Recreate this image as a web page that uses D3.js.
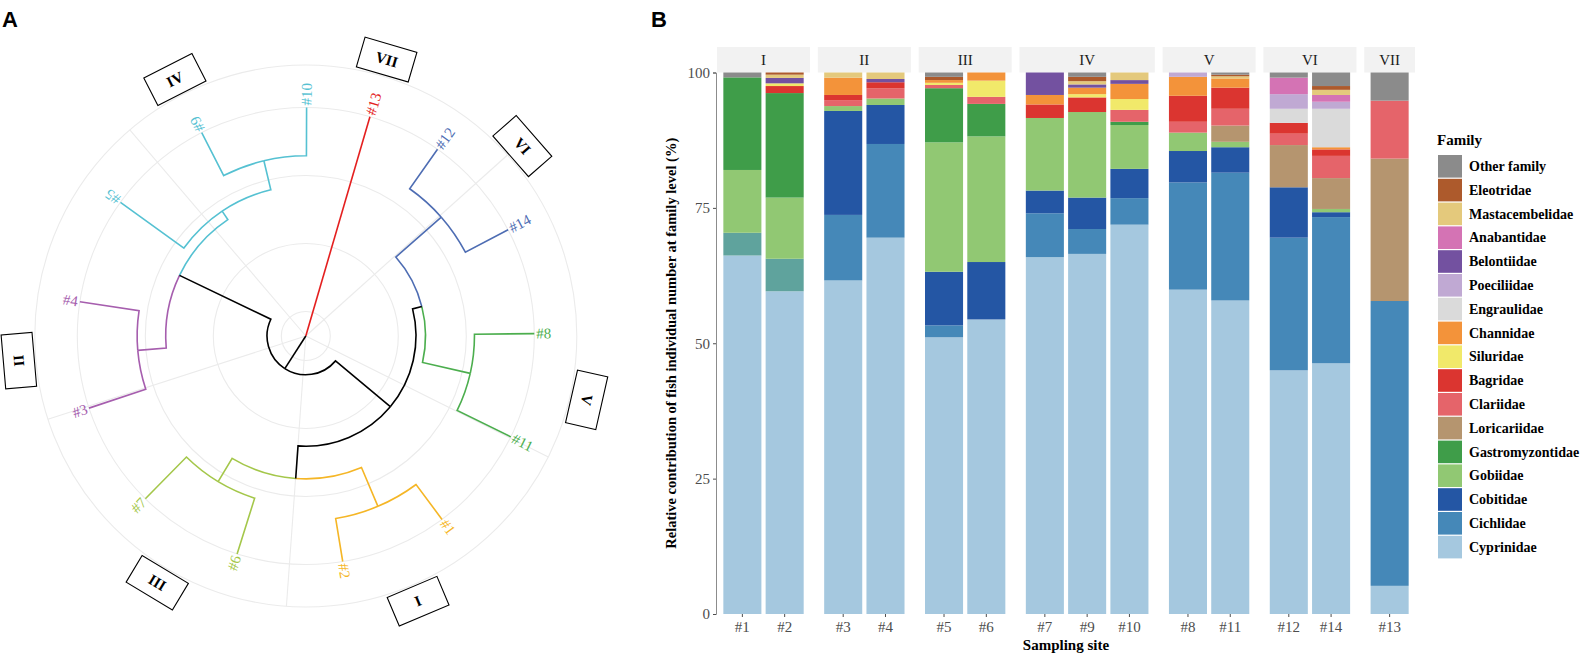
<!DOCTYPE html>
<html lang="en">
<head>
<meta charset="UTF-8">
<title>Fish family composition by sampling site</title>
<script src="https://d3js.org/d3.v7.min.js"></script>
<style>
  body { margin: 0; background: #fff; }
  svg { display: block; }
</style>
</head>
<body>
<div id="chart"></div>
<script>
// ---------- panel A: circular dendrogram ----------
const tipNames    = ["#13", "#12", "#14", "#8", "#11", "#1", "#2", "#6", "#7", "#3", "#4", "#5", "#9", "#10"];
const tipAngles   = [16.3, 35.2, 62.3, 89.4, 116.2, 143.4, 170.7, 197.5, 224.6, 251.6, 278.6, 305.8, 332.9, 360.2];
const tipClusters = ["VII", "VI", "VI", "V", "V", "I", "I", "III", "III", "II", "II", "IV", "IV", "IV"];

// merges, children listed before parents
const nodeNames   = ["n1", "n2", "n3", "n4", "n5", "n6", "n7", "n8", "n9", "n10", "n11", "n12", "root"];
const nodeLeft    = ["#1", "#9", "#12", "#6", "#8", "#3", "#5", "n4", "n6", "n3", "n10", "n11", "#13"];
const nodeRight   = ["#2", "#10", "#14", "#7", "#11", "#4", "n2", "n1", "n7", "n5", "n8", "n9", "n12"];
const nodeHeights = [0.064, 0.071, 0.071, 0.086, 0.088, 0.088, 0.115, 0.126, 0.130, 0.160, 0.174, 0.279, 0.336];

const gridBreaks  = [0, 0.1, 0.2, 0.3];
const outerLimit  = -0.0625;
const spokeAngles = [48.1, 116.5, 184.1, 252.1, 319.5];

const clusterNames  = ["I", "II", "III", "IV", "V", "VI", "VII"];
const clusterColors = ["#f5b626", "#a65eae", "#a4c74a", "#55c1d2", "#4cae4e", "#4e6db3", "#e41f1f"];

// ---------- panel B: stacked bars ----------
const sites      = ["#1", "#2", "#3", "#4", "#5", "#6", "#7", "#9", "#10", "#8", "#11", "#12", "#14", "#13"];
const siteGroups = ["I", "I", "II", "II", "III", "III", "IV", "IV", "IV", "V", "V", "VI", "VI", "VII"];

// legend order (top of stack first)
const families = ["Other family", "Eleotridae", "Mastacembelidae", "Anabantidae", "Belontiidae", "Poeciliidae",
  "Engraulidae", "Channidae", "Siluridae", "Bagridae", "Clariidae", "Loricariidae", "Gastromyzontidae",
  "Gobiidae", "Cobitidae", "Cichlidae", "Cyprinidae"];
const familyColors = ["#8b8b8b", "#ad5a2c", "#e4c97c", "#d473b4", "#7351a0", "#c0a9d3",
  "#dadada", "#f3933a", "#f1e96a", "#db3530", "#e5646a", "#b5956f", "#3f9d49",
  "#91c873", "#2456a4", "#4588b8", "#a5c8df"];
const unlistedColor = "#5fa39d";   // segment in #1 and #2 that has no legend key

// % per site, same order as `sites`
const otherFamily      = [0.9, 0, 0, 0, 0.8, 0, 0, 0.8, 0, 0, 0.4, 0.95, 2.5, 5.2];
const eleotridae       = [0, 0.4, 0, 0, 0.6, 0, 0, 0.8, 0, 0, 0.3, 0, 0.7, 0];
const mastacembelidae  = [0, 0.6, 0.95, 1.2, 0, 0, 0, 0.6, 1.4, 0, 0.4, 0, 0.95, 0];
const anabantidae      = [0, 0, 0, 0, 0, 0, 0, 0, 0, 0, 0, 3.05, 1.25, 0];
const belontiidae      = [0, 1.0, 0, 0.6, 0, 0, 4.15, 0.6, 0.7, 0, 0, 0, 0, 0];
const poeciliidae      = [0, 0, 0, 0, 0, 0, 0, 0, 0, 0.8, 0, 2.7, 1.3, 0];
const engraulidae      = [0, 0, 0, 0, 0, 0, 0, 0, 0, 0, 0, 2.6, 7.1, 0];
const channidae        = [0, 0, 3.2, 0, 0.5, 1.5, 1.75, 1.2, 2.8, 3.5, 1.7, 0, 0.4, 0];
const siluridae        = [0, 0.5, 0, 0, 0.4, 3.0, 0, 0.6, 2.0, 0, 0, 0, 0, 0];
const bagridae         = [0, 1.3, 0.95, 1.1, 0, 0, 2.5, 2.7, 0, 4.8, 3.9, 2.0, 1.2, 0];
const clariidae        = [0, 0, 1.1, 1.9, 0.6, 1.3, 0, 0, 2.2, 2.0, 3.1, 2.1, 4.1, 10.7];
const loricariidae     = [0, 0, 0, 0, 0, 0, 0, 0, 0, 0, 3.0, 7.8, 5.7, 26.3];
const gastromyzontidae = [17.1, 19.3, 0, 0, 10.0, 6.0, 0, 0, 0.6, 0, 0, 0, 0, 0];
const gobiidae         = [11.6, 11.3, 0.9, 1.2, 23.9, 23.2, 13.4, 15.8, 8.1, 3.4, 1.0, 0, 0.6, 0];
const cobitidae        = [0, 0, 19.2, 7.2, 9.9, 10.6, 4.2, 5.8, 5.4, 5.8, 4.7, 9.3, 0.9, 0];
const cichlidae        = [0, 0, 12.1, 17.3, 2.2, 0, 8.1, 4.6, 4.9, 19.8, 23.6, 24.5, 27.0, 52.6];
const unlisted         = [4.2, 6.0, 0, 0, 0, 0, 0, 0, 0, 0, 0, 0, 0, 0];
const cyprinidae       = [66.2, 59.6, 61.6, 69.5, 51.1, 54.4, 65.9, 66.5, 71.9, 59.9, 57.9, 45.0, 46.3, 5.2];

const yTicks = [0, 25, 50, 75, 100];

const serif = '"Liberation Serif", "Times New Roman", serif';
const sans = '"Liberation Sans", Arial, sans-serif';

const svg = d3.select("#chart").append("svg")
    .attr("width", 1595)
    .attr("height", 653);

svg.append("text").attr("x", 2).attr("y", 27)
    .style("font-family", sans).style("font-weight", "bold").style("font-size", "22px")
    .text("A");
svg.append("text").attr("x", 651).attr("y", 27)
    .style("font-family", sans).style("font-weight", "bold").style("font-size", "22px")
    .text("B");

// ===== dendrogram =====
const cx = 305.8, cy = 336;
const r = d3.scaleLinear().domain([nodeHeights[nodeHeights.length - 1], 0]).range([0, 228.5]);
const rad = a => a * Math.PI / 180;
const pt = (rr, a) => [rr * Math.sin(rad(a)), -rr * Math.cos(rad(a))];

const tree = svg.append("g").attr("transform", `translate(${cx},${cy})`);

gridBreaks.concat([outerLimit]).forEach(b => {
    tree.append("circle")
        .attr("r", r(b))
        .attr("fill", "none")
        .attr("stroke", "#ebebeb")
        .attr("stroke-width", 1.1);
});
spokeAngles.forEach(a => {
    const [x, y] = pt(r(outerLimit), a);
    tree.append("line")
        .attr("x1", 0).attr("y1", 0).attr("x2", x).attr("y2", y)
        .attr("stroke", "#ebebeb")
        .attr("stroke-width", 1.1);
});

const clusterColor = d3.scaleOrdinal().domain(clusterNames).range(clusterColors);
const info = {};
tipNames.forEach((n, i) => info[n] = { a: tipAngles[i], h: 0, cl: new Set([tipClusters[i]]) });
nodeNames.forEach((n, i) => {
    const L = info[nodeLeft[i]], R = info[nodeRight[i]];
    info[n] = { a: (L.a + R.a) / 2, h: nodeHeights[i], cl: new Set([...L.cl, ...R.cl]) };
});

function edgePath(p, c) {
    const rp = r(p.h), rc = r(c.h);
    const [x0, y0] = pt(rp, p.a), [x1, y1] = pt(rp, c.a), [x2, y2] = pt(rc, c.a);
    let d = `M${x0},${y0}`;
    if (rp > 0.5) d += `A${rp},${rp} 0 0 ${c.a > p.a ? 1 : 0} ${x1},${y1}`;
    return d + `L${x2},${y2}`;
}

const edges = [];
nodeNames.forEach((n, i) => {
    [nodeLeft[i], nodeRight[i]].forEach(ch => {
        const c = info[ch];
        const col = c.cl.size === 1 ? clusterColor([...c.cl][0]) : "#000";
        edges.push({ d: edgePath(info[n], c), col });
    });
});
edges.sort((a, b) => (a.col === "#000") - (b.col === "#000"));
tree.selectAll("path.edge")
    .data(edges)
    .enter().append("path")
    .attr("class", "edge")
    .attr("d", d => d.d)
    .attr("fill", "none")
    .attr("stroke", d => d.col)
    .attr("stroke-width", 1.6);

tipNames.forEach((n, i) => {
    const a = tipAngles[i];
    const flip = a > 180 && a < 290;
    const [x, y] = pt(r(0) + 2, a);
    tree.append("text")
        .attr("transform", `translate(${x},${y}) rotate(${flip ? a + 90 : a - 90})`)
        .attr("text-anchor", flip ? "end" : "start")
        .attr("dominant-baseline", "central")
        .style("font-family", serif)
        .style("font-size", "15px")
        .attr("fill", clusterColor(tipClusters[i]))
        .text(n);
});

clusterNames.forEach(c => {
    const a = d3.mean(tipAngles.filter((v, i) => tipClusters[i] === c));
    const [x, y] = pt(288, a);
    const g = tree.append("g").attr("transform", `translate(${x},${y}) rotate(${a})`);
    g.append("rect")
        .attr("x", -27).attr("y", -15.5).attr("width", 54).attr("height", 31)
        .attr("fill", "#fff").attr("stroke", "#000").attr("stroke-width", 1.1);
    g.append("text")
        .attr("text-anchor", "middle")
        .attr("dominant-baseline", "central")
        .style("font-family", serif)
        .style("font-weight", "bold")
        .style("font-size", "15px")
        .text(c);
});

// ===== stacked bars =====
const famValues = {
    "Other family": otherFamily, "Eleotridae": eleotridae, "Mastacembelidae": mastacembelidae,
    "Anabantidae": anabantidae, "Belontiidae": belontiidae, "Poeciliidae": poeciliidae,
    "Engraulidae": engraulidae, "Channidae": channidae, "Siluridae": siluridae, "Bagridae": bagridae,
    "Clariidae": clariidae, "Loricariidae": loricariidae, "Gastromyzontidae": gastromyzontidae,
    "Gobiidae": gobiidae, "Cobitidae": cobitidae, "Cichlidae": cichlidae, "Unlisted": unlisted,
    "Cyprinidae": cyprinidae
};
const stackKeys = families.slice().reverse();
stackKeys.splice(1, 0, "Unlisted");   // sits right above Cyprinidae
const fill = d3.scaleOrdinal()
    .domain(families.concat(["Unlisted"]))
    .range(familyColors.concat([unlistedColor]));

const rows = sites.map((s, i) => {
    const row = { site: s, group: siteGroups[i] };
    stackKeys.forEach(k => row[k] = famValues[k][i]);
    return row;
});
const series = d3.stack().keys(stackKeys)(rows);

const plotTop = 72.5, plotBottom = 614, plotLeft = 717, plotRight = 1415;
const y = d3.scaleLinear().domain([0, 100]).range([plotBottom, plotTop]);

const groups = Array.from(new Set(siteGroups));
const gap = 7.8;
const nPer = groups.map(g => siteGroups.filter(s => s === g).length);
const unit = (plotRight - plotLeft - gap * (groups.length - 1)) / d3.sum(nPer, n => n + 0.2);

const xOf = {};
let gx = plotLeft;
groups.forEach((g, k) => {
    const w = (nPer[k] + 0.2) * unit;
    const xs = d3.scaleBand()
        .domain(sites.filter((s, i) => siteGroups[i] === g))
        .range([gx, gx + w])
        .paddingInner(0.1)
        .paddingOuter(0.15);
    xs.domain().forEach(s => xOf[s] = xs);

    svg.append("rect")
        .attr("x", gx).attr("y", 47).attr("width", w).attr("height", plotTop - 47)
        .attr("fill", "#f2f2f2");
    svg.append("text")
        .attr("x", gx + w / 2).attr("y", 65)
        .attr("text-anchor", "middle")
        .style("font-family", serif).style("font-size", "15px")
        .attr("fill", "#1a1a1a")
        .text(g);

    const xa = svg.append("g")
        .attr("transform", `translate(0,${plotBottom})`)
        .call(d3.axisBottom(xs).tickSize(3).tickPadding(4));
    xa.select(".domain").remove();
    xa.selectAll("line").attr("stroke", "#4d4d4d");
    xa.selectAll("text")
        .style("font-family", serif).style("font-size", "15px")
        .attr("fill", "#4d4d4d");

    gx += w + gap;
});

series.forEach(s => {
    svg.append("g")
        .attr("fill", fill(s.key))
        .selectAll("rect")
        .data(s)
        .enter().append("rect")
        .attr("x", d => xOf[d.data.site](d.data.site))
        .attr("width", d => xOf[d.data.site].bandwidth())
        .attr("y", d => y(d[1]))
        .attr("height", d => Math.max(0, y(d[0]) - y(d[1])));
});

const ya = svg.append("g")
    .attr("transform", `translate(${plotLeft - 1},0)`)
    .call(d3.axisLeft(y).tickValues(yTicks).tickSize(3).tickPadding(3));
ya.select(".domain").attr("stroke", "#8c8c8c");
ya.selectAll("line").attr("stroke", "#4d4d4d");
ya.selectAll("text")
    .style("font-family", serif).style("font-size", "15px")
    .attr("fill", "#4d4d4d");

svg.append("text")
    .attr("transform", `translate(676,${(plotTop + plotBottom) / 2}) rotate(-90)`)
    .attr("text-anchor", "middle")
    .style("font-family", serif).style("font-weight", "bold").style("font-size", "14.5px")
    .text("Relative contribution of fish individual number at family level (%)");

svg.append("text")
    .attr("x", (plotLeft + plotRight) / 2).attr("y", 650)
    .attr("text-anchor", "middle")
    .style("font-family", serif).style("font-weight", "bold").style("font-size", "15px")
    .text("Sampling site");

// legend
const legend = svg.append("g").attr("transform", "translate(1437,0)");
legend.append("text")
    .attr("x", 0).attr("y", 145)
    .style("font-family", serif).style("font-weight", "bold").style("font-size", "15px")
    .text("Family");
families.forEach((f, i) => {
    const ky = 155 + i * 23.8;
    legend.append("rect")
        .attr("x", 1).attr("y", ky).attr("width", 24).attr("height", 22.6)
        .attr("fill", fill(f));
    legend.append("text")
        .attr("x", 32).attr("y", ky + 11.5)
        .attr("dominant-baseline", "central")
        .style("font-family", serif).style("font-weight", "bold").style("font-size", "14px")
        .text(f);
});
</script>
</body>
</html>
